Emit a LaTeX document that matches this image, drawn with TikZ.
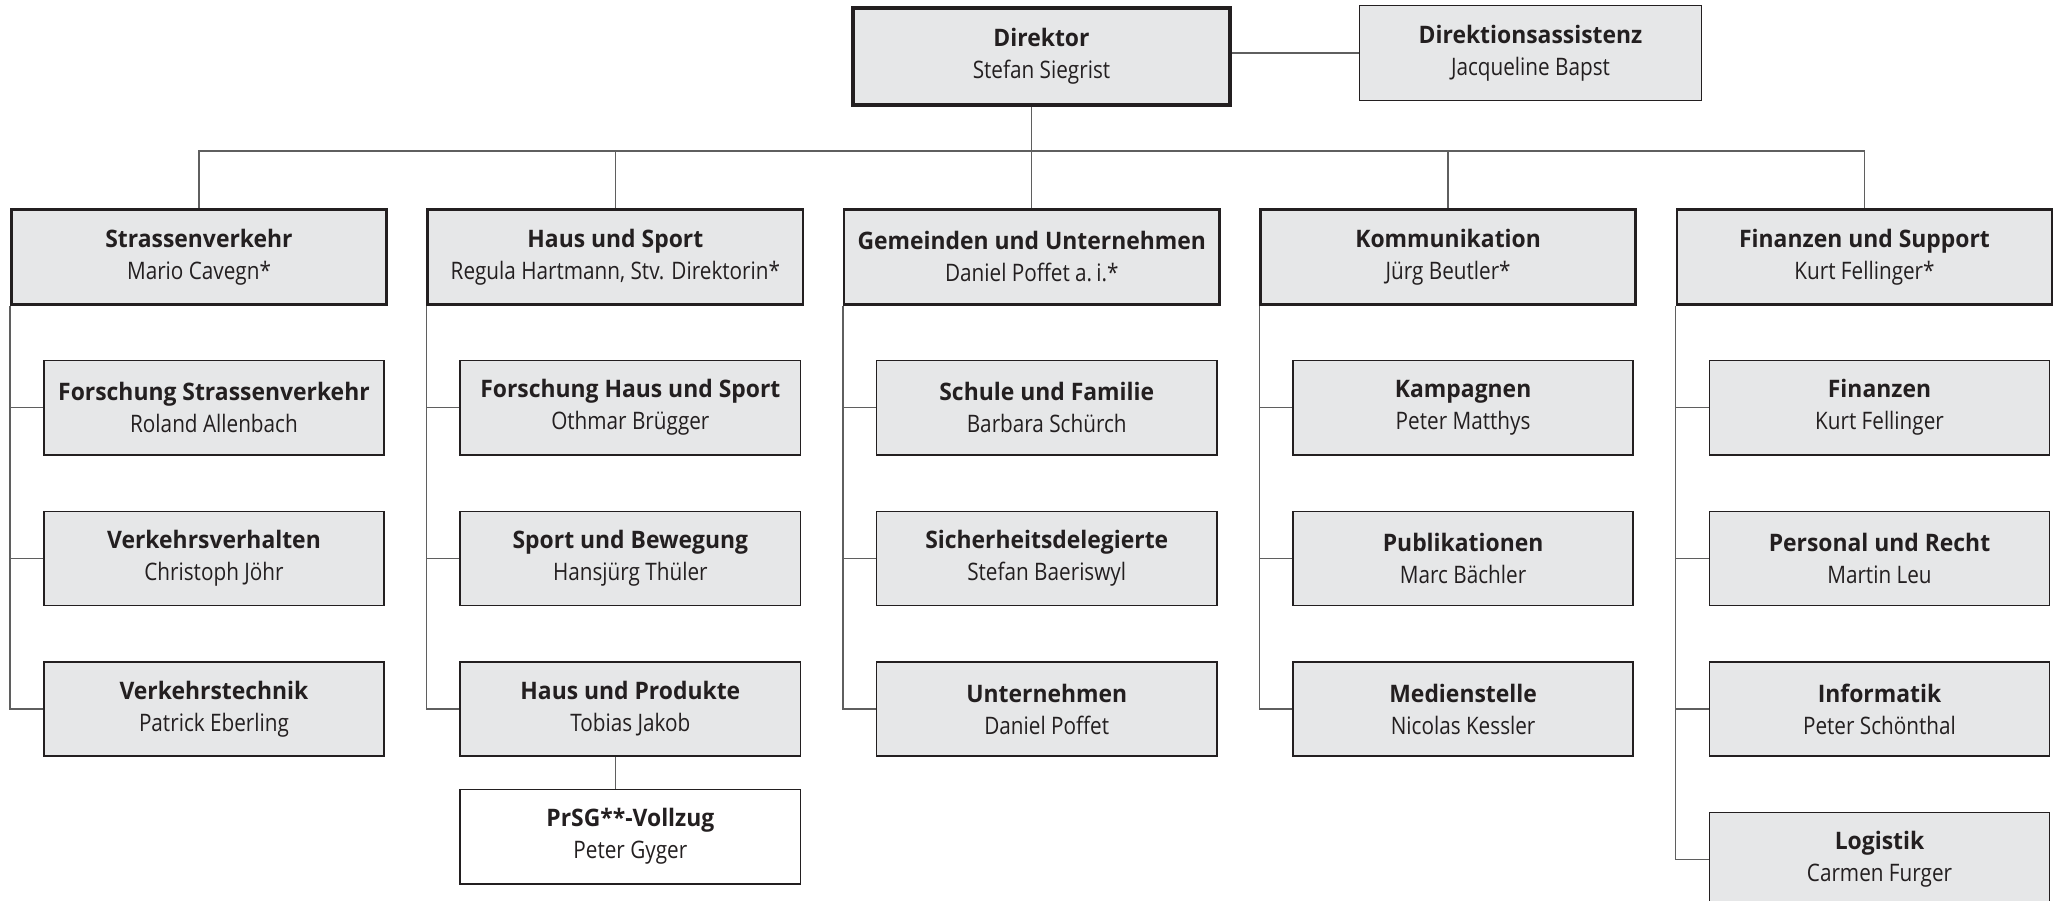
\documentclass[tikz,border=0pt]{standalone}
\usepackage{fontspec}
\setmainfont{Open Sans}
\newfontfamily\titlefont{Open Sans}[FakeStretch=0.95]
\newfontfamily\namefont{Open Sans}[FakeStretch=0.86]
\usetikzlibrary{positioning}
\definecolor{boxgray}{RGB}{230,231,232}
\definecolor{textdark}{RGB}{35,31,32}
\definecolor{linegray}{RGB}{95,95,95}

% title line and name line of one box
\newcommand{\orgtext}[2]{{\titlefont\bfseries #1}\\{\namefont #2}}

\begin{document}
\begin{tikzpicture}[
            x=0.01cm, y=-0.01cm,
            font=\fontsize{6.85}{9.1}\selectfont,
            head/.style={
				rectangle,
				minimum width=3.77cm,
				minimum height=0.97cm,
				inner sep=0pt,
				align=center,
				draw=textdark,
				line width=1.1pt,
				fill=boxgray,
				text=textdark
			},
            staff/.style={
				head,
				minimum width=3.42cm,
				minimum height=0.95cm,
				line width=0.45pt
			},
            dept/.style={
				head,
				minimum width=3.75cm,
				minimum height=0.95cm,
				line width=0.75pt
			},
            unit/.style={
				head,
				minimum width=3.40cm,
				minimum height=0.94cm,
				line width=0.45pt
			},
            unitwhite/.style={
				unit,
				fill=white
			},
            line/.style={
				draw=linegray,
				line width=0.4pt
			}
        ]

        \useasboundingbox (0,0) rectangle (2057,901);

        % top level
        \node (director) [head] at (1041.5,56.5) {\orgtext{Direktor}{Stefan Siegrist}};
        \node (assist) [staff] at (1530.5,53) {\orgtext{Direktionsassistenz}{Jacqueline Bapst}};

        % departments
        \node (strasse) [dept] at (199,257) {\orgtext{Strassenverkehr}{Mario Cavegn*}};
        \node (haus) [dept, right=0.385cm of strasse] {\orgtext{Haus und Sport}{Regula Hartmann, Stv. Direktorin*}};
        \node (gemeinden) [dept, right=0.385cm of haus] {\orgtext{Gemeinden und Unternehmen}{Daniel Poffet a.\,i.*}};
        \node (komm) [dept, right=0.385cm of gemeinden] {\orgtext{Kommunikation}{Jürg Beutler*}};
        \node (finanzen) [dept, right=0.385cm of komm] {\orgtext{Finanzen und Support}{Kurt Fellinger*}};

        % Strassenverkehr
        \node (fsv) [unit, below=0.54cm of strasse.south west, anchor=north west, xshift=0.33cm] {\orgtext{Forschung Strassenverkehr}{Roland Allenbach}};
        \node (vverh) [unit, below=0.55cm of fsv] {\orgtext{Verkehrsverhalten}{Christoph Jöhr}};
        \node (vtech) [unit, below=0.55cm of vverh] {\orgtext{Verkehrstechnik}{Patrick Eberling}};

        % Haus und Sport
        \node (fhs) [unit, below=0.54cm of haus.south west, anchor=north west, xshift=0.33cm] {\orgtext{Forschung Haus und Sport}{Othmar Brügger}};
        \node (sport) [unit, below=0.55cm of fhs] {\orgtext{Sport und Bewegung}{Hansjürg Thüler}};
        \node (hup) [unit, below=0.55cm of sport] {\orgtext{Haus und Produkte}{Tobias Jakob}};
        \node (prsg) [unitwhite, below=0.32cm of hup] {\orgtext{PrSG**-Vollzug}{Peter Gyger}};

        % Gemeinden und Unternehmen
        \node (schule) [unit, below=0.54cm of gemeinden.south west, anchor=north west, xshift=0.33cm] {\orgtext{Schule und Familie}{Barbara Schürch}};
        \node (sidel) [unit, below=0.55cm of schule] {\orgtext{Sicherheitsdelegierte}{Stefan Baeriswyl}};
        \node (untern) [unit, below=0.55cm of sidel] {\orgtext{Unternehmen}{Daniel Poffet}};

        % Kommunikation
        \node (kamp) [unit, below=0.54cm of komm.south west, anchor=north west, xshift=0.33cm] {\orgtext{Kampagnen}{Peter Matthys}};
        \node (publ) [unit, below=0.55cm of kamp] {\orgtext{Publikationen}{Marc Bächler}};
        \node (medien) [unit, below=0.55cm of publ] {\orgtext{Medienstelle}{Nicolas Kessler}};

        % Finanzen und Support
        \node (fin) [unit, below=0.54cm of finanzen.south west, anchor=north west, xshift=0.33cm] {\orgtext{Finanzen}{Kurt Fellinger}};
        \node (pers) [unit, below=0.55cm of fin] {\orgtext{Personal und Recht}{Martin Leu}};
        \node (info) [unit, below=0.55cm of pers] {\orgtext{Informatik}{Peter Schönthal}};
        \node (logi) [unit, below=0.55cm of info] {\orgtext{Logistik}{Carmen Furger}};

        % connectors
        \coordinate (bus) at (gemeinden.north |- 0,151);

        \draw [line] (assist.west) -- (assist.west -| director.east);
        \draw [line] (bus |- director.south) -- (bus);
        \draw [line] (strasse.north) -- (strasse.north |- bus) -- (finanzen.north |- bus) -- (finanzen.north);
        \draw [line] (haus.north) -- (haus.north |- bus);
        \draw [line] (gemeinden.north) -- (bus);
        \draw [line] (komm.north) -- (komm.north |- bus);

        \draw [line] (strasse.south west) |- (vtech.west);
        \draw [line] (fsv.west) -- (fsv.west -| strasse.south west);
        \draw [line] (vverh.west) -- (vverh.west -| strasse.south west);

        \draw [line] (haus.south west) |- (hup.west);
        \draw [line] (fhs.west) -- (fhs.west -| haus.south west);
        \draw [line] (sport.west) -- (sport.west -| haus.south west);
        \draw [line] (haus.south |- hup.south) -- (haus.south |- prsg.north);

        \draw [line] (gemeinden.south west) |- (untern.west);
        \draw [line] (schule.west) -- (schule.west -| gemeinden.south west);
        \draw [line] (sidel.west) -- (sidel.west -| gemeinden.south west);

        \draw [line] (komm.south west) |- (medien.west);
        \draw [line] (kamp.west) -- (kamp.west -| komm.south west);
        \draw [line] (publ.west) -- (publ.west -| komm.south west);

        \draw [line] (finanzen.south west) |- (logi.west);
        \draw [line] (fin.west) -- (fin.west -| finanzen.south west);
        \draw [line] (pers.west) -- (pers.west -| finanzen.south west);
        \draw [line] (info.west) -- (info.west -| finanzen.south west);

        \end{tikzpicture}
\end{document}
